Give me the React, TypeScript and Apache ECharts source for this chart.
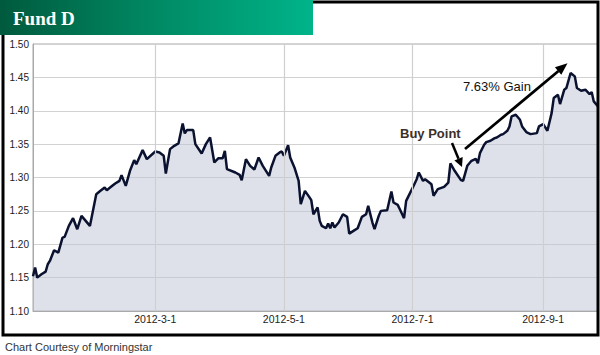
import React, { useEffect, useRef } from "react";
import * as echarts from "echarts";

const dates: string[] = [
  "2012-01-03","2012-01-04","2012-01-05","2012-01-07","2012-01-09","2012-01-10","2012-01-11","2012-01-13",
  "2012-01-15","2012-01-17","2012-01-18","2012-01-20","2012-01-22","2012-01-24","2012-01-26","2012-01-28",
  "2012-01-30","2012-02-02","2012-02-04","2012-02-06","2012-02-07","2012-02-09","2012-02-11","2012-02-13",
  "2012-02-14","2012-02-16","2012-02-18","2012-02-20","2012-02-21","2012-02-24","2012-02-26","2012-03-01",
  "2012-03-03","2012-03-05","2012-03-06","2012-03-08","2012-03-10","2012-03-12","2012-03-14","2012-03-15",
  "2012-03-16","2012-03-19","2012-03-20","2012-03-23","2012-03-25","2012-03-27","2012-03-29","2012-03-31",
  "2012-04-02","2012-04-03","2012-04-04","2012-04-08","2012-04-10","2012-04-11","2012-04-13","2012-04-15",
  "2012-04-17","2012-04-19","2012-04-21","2012-04-24","2012-04-25","2012-04-27","2012-04-29","2012-04-30",
  "2012-05-01","2012-05-03","2012-05-04","2012-05-06","2012-05-08","2012-05-09","2012-05-11","2012-05-13",
  "2012-05-14","2012-05-15","2012-05-17","2012-05-18","2012-05-19","2012-05-21","2012-05-22","2012-05-23",
  "2012-05-24","2012-05-25","2012-05-27","2012-05-29","2012-05-31","2012-06-01","2012-06-03","2012-06-05",
  "2012-06-07","2012-06-09","2012-06-10","2012-06-12","2012-06-13","2012-06-15","2012-06-16","2012-06-19",
  "2012-06-21","2012-06-22","2012-06-24","2012-06-25","2012-06-27","2012-06-28","2012-07-01","2012-07-03",
  "2012-07-04","2012-07-06","2012-07-07","2012-07-10","2012-07-11","2012-07-13","2012-07-16","2012-07-18",
  "2012-07-19","2012-07-21","2012-07-24","2012-07-25","2012-07-27","2012-07-29","2012-07-31","2012-08-01",
  "2012-08-02","2012-08-04","2012-08-05","2012-08-07","2012-08-09","2012-08-10","2012-08-12","2012-08-13",
  "2012-08-15","2012-08-16","2012-08-17","2012-08-19","2012-08-21","2012-08-22","2012-08-24","2012-08-26",
  "2012-08-29","2012-08-30","2012-09-01","2012-09-03","2012-09-05","2012-09-06","2012-09-08","2012-09-09",
  "2012-09-11","2012-09-12","2012-09-14","2012-09-16","2012-09-17","2012-09-19","2012-09-21","2012-09-23",
  "2012-09-24","2012-09-25","2012-09-27"
];

const navValues: number[] = [
  1.152,1.165,1.150,1.155,1.159,1.170,1.175,1.191,
  1.1875,1.210,1.211,1.2275,1.239,1.2225,1.2425,1.235,
  1.2275,1.275,1.280,1.285,1.281,1.286,1.291,1.295,
  1.3035,1.2875,1.310,1.326,1.320,1.341,1.3275,1.339,
  1.3375,1.3325,1.306,1.3425,1.3475,1.351,1.381,1.366,
  1.371,1.371,1.350,1.336,1.350,1.360,1.3225,1.329,
  1.329,1.340,1.3125,1.3075,1.304,1.296,1.3275,1.3175,
  1.312,1.330,1.3175,1.3025,1.315,1.3325,1.3375,1.339,
  1.3325,1.3485,1.330,1.315,1.295,1.260,1.280,1.271,
  1.266,1.245,1.255,1.235,1.2275,1.224,1.231,1.224,
  1.2325,1.225,1.2325,1.245,1.241,1.216,1.220,1.224,
  1.241,1.245,1.2575,1.2325,1.2225,1.2425,1.250,1.251,
  1.279,1.2625,1.259,1.2525,1.239,1.265,1.284,1.2975,
  1.3075,1.295,1.2975,1.290,1.2725,1.2825,1.286,1.2925,
  1.321,1.310,1.296,1.295,1.3175,1.325,1.328,1.3215,
  1.3365,1.349,1.353,1.355,1.359,1.360,1.364,1.365,
  1.370,1.3765,1.3915,1.394,1.3865,1.3765,1.368,1.365,
  1.3665,1.3765,1.380,1.370,1.3965,1.419,1.424,1.410,
  1.4315,1.434,1.4565,1.4515,1.434,1.430,1.4315,1.425,
  1.428,1.414,1.4065
];

const xTickDates: string[] = ["2012-03-01", "2012-05-01", "2012-07-01", "2012-09-01"];
const xRange: string[] = ["2012-01-03", "2012-09-27"];
const yMin = 1.1;
const yMax = 1.5;
const yStep = 0.05;

const titleText = "Fund D";
const buyLabel = "Buy Point";
const gainLabel = "7.63% Gain";
const sourceText = "Chart Courtesy of Morningstar";

const ts = (s: string) => {
  const [y, m, d] = s.split("-").map(Number);
  return new Date(y, m - 1, d).getTime();
};

export default function App() {
  const ref = useRef<HTMLDivElement>(null);

  useEffect(() => {
    document.body.style.margin = "0";
    if (!ref.current) return;
    const chart = echarts.init(ref.current, undefined, { renderer: "svg" });
    const tickTs = xTickDates.map(ts);
    const font = "'Liberation Sans', Arial, sans-serif";

    chart.setOption({
      animation: false,
      backgroundColor: "#ffffff",
      grid: {
        left: 33,
        top: 44,
        right: 2,
        bottom: 44,
        show: true,
        borderColor: "#a9a9a9",
        borderWidth: 1,
        backgroundColor: "#ffffff",
      },
      xAxis: {
        type: "value",
        min: ts(xRange[0]),
        max: ts(xRange[1]),
        axisLine: { show: true, lineStyle: { color: "#a9a9a9", width: 1 } },
        axisTick: { show: false },
        splitLine: { show: false },
        axisLabel: {
          customValues: tickTs,
          color: "#222",
          fontSize: 10.5,
          fontFamily: font,
          margin: 2,
          formatter: (v: number) => {
            const d = new Date(v);
            return `${d.getFullYear()}-${d.getMonth() + 1}-${d.getDate()}`;
          },
        },
      },
      yAxis: {
        type: "value",
        min: yMin,
        max: yMax,
        interval: yStep,
        axisLine: { show: true, lineStyle: { color: "#a9a9a9", width: 1 } },
        axisTick: { show: false },
        splitLine: { show: true, lineStyle: { color: "#d2d2d2", width: 1.2 } },
        axisLabel: {
          color: "#222",
          fontSize: 10,
          fontFamily: font,
          margin: 4,
          formatter: (v: number) => v.toFixed(2),
        },
      },
      series: [
        {
          type: "line",
          data: dates.map((d, i) => [ts(d), navValues[i]]),
          symbol: "none",
          smooth: false,
          lineStyle: { color: "#0a1230", width: 2.5 },
          areaStyle: { color: "#bfc4d6", opacity: 0.5 },
          markLine: {
            silent: true,
            symbol: ["none", "none"],
            label: { show: false },
            lineStyle: { color: "#cfcfcf", type: "solid", width: 1.2 },
            data: tickTs.map((t) => ({ xAxis: t })),
          },
        },
      ],
      graphic: [
        {
          type: "rect",
          z: 100,
          shape: { x: 3, y: 2, width: 595, height: 333 },
          style: { fill: "none", stroke: "#000", lineWidth: 3 },
        },
        {
          type: "rect",
          z: 101,
          shape: { x: 0, y: 0, width: 313, height: 35 },
          style: {
            fill: {
              type: "linear",
              x: 0,
              y: 0,
              x2: 1,
              y2: 0,
              colorStops: [
                { offset: 0, color: "#005a3d" },
                { offset: 0.5, color: "#008a64" },
                { offset: 1, color: "#00b48a" },
              ],
            },
          },
        },
        {
          type: "text",
          z: 102,
          x: 13,
          y: 18,
          style: {
            text: titleText,
            fill: "#ffffff",
            font: "bold 19px 'Liberation Serif', 'Times New Roman', serif",
            verticalAlign: "middle",
          },
        },
        {
          type: "text",
          z: 102,
          x: 400,
          y: 133,
          style: {
            text: buyLabel,
            fill: "#3b2f2a",
            font: "bold 13px 'Liberation Sans', Arial, sans-serif",
            verticalAlign: "middle",
          },
        },
        {
          type: "line",
          z: 102,
          shape: { x1: 452, y1: 143, x2: 458.5, y2: 158.7 },
          style: { stroke: "#000", lineWidth: 2.5 },
        },
        {
          type: "polygon",
          z: 102,
          shape: { points: [[462, 167], [454.4, 160.4], [462.7, 157.0]] },
          style: { fill: "#000" },
        },
        {
          type: "line",
          z: 102,
          shape: { x1: 465, y1: 149, x2: 558.5, y2: 71 },
          style: { stroke: "#000", lineWidth: 2.8 },
        },
        {
          type: "polygon",
          z: 102,
          shape: { points: [[567.5, 63.3], [561.3, 74.8], [554.9, 67.2]] },
          style: { fill: "#000" },
        },
        {
          type: "text",
          z: 102,
          x: 463,
          y: 86,
          style: {
            text: gainLabel,
            fill: "#111",
            font: "13px 'Liberation Sans', Arial, sans-serif",
            verticalAlign: "middle",
          },
        },
        {
          type: "text",
          z: 102,
          x: 5,
          y: 347,
          style: {
            text: sourceText,
            fill: "#333",
            font: "11px 'Liberation Sans', Arial, sans-serif",
            verticalAlign: "middle",
          },
        },
      ],
    });

    return () => chart.dispose();
  }, []);

  return <div ref={ref} style={{ width: 600, height: 355 }} />;
}
